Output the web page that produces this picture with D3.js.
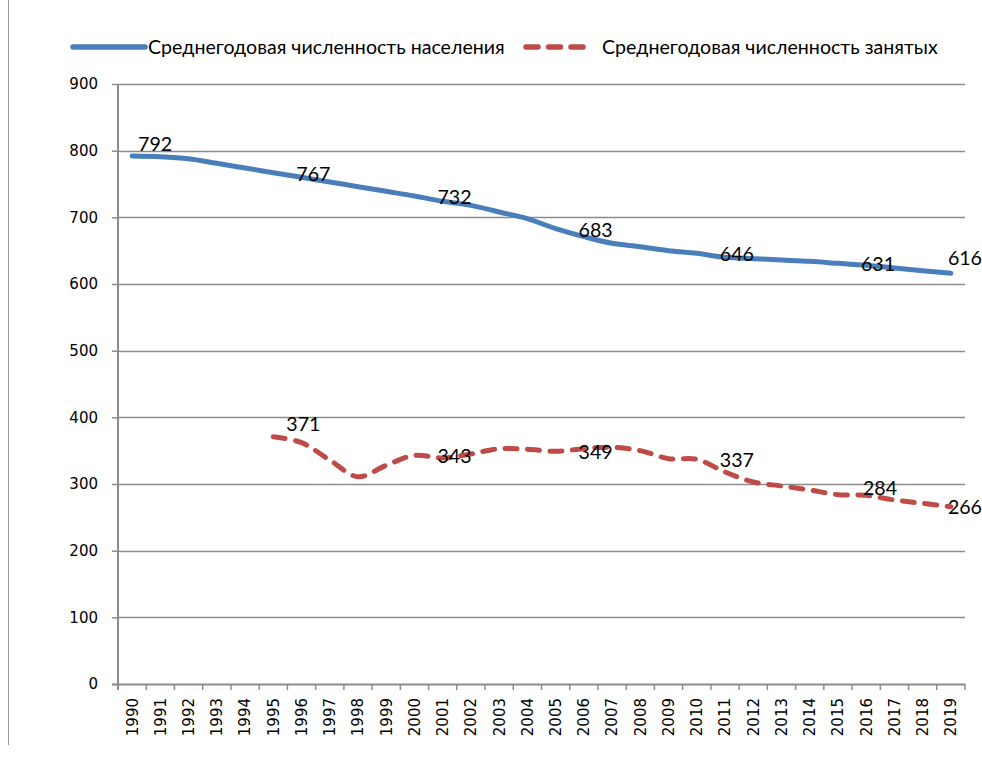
<!DOCTYPE html>
<html>
<head>
<meta charset="utf-8">
<script src="https://cdn.jsdelivr.net/npm/d3@7"></script>
<style>
  html, body { margin: 0; padding: 0; background: #fff; }
  svg { display: block; }
</style>
</head>
<body>
<svg id="chart" width="982" height="764"></svg>
<script>
// Years on the horizontal axis
const years = d3.range(1990, 2020);

// Average annual population, thousand people
const population = [792, 791, 788, 781, 774, 767, 760, 753, 746, 739,
                    732, 724, 718, 708, 698, 683, 671, 661, 656, 650,
                    646, 640, 638, 636, 634, 631, 628, 624, 620, 616];

// Average annual number of employed, thousand people (no data before 1995)
const employed = [null, null, null, null, null, 371, 362, 336, 311, 328,
                  343, 339, 345, 353, 352, 349, 353, 355, 350, 338,
                  337, 318, 303, 297, 291, 284, 283, 276, 271, 266];

// Years that carry a value label
const popLabelYears = [1990, 1995, 2000, 2005, 2010, 2015, 2019];
const empLabelYears = [1995, 2000, 2005, 2010, 2015, 2019];

const yTicks = [0, 100, 200, 300, 400, 500, 600, 700, 800, 900];

const seriesNames = ["Среднегодовая численность населения",
                     "Среднегодовая численность занятых"];

// ---- layout and style ----
const plot = { left: 118, right: 965, top: 84, bottom: 684 };
const gridColor = "#8c8c8c";
const blue = "#4a7ebb";
const red = "#be4b48";
const tickFont = "DejaVu Sans, Verdana, sans-serif";
const tickSize = "15px";
const labelFont = "Lato, Liberation Sans, sans-serif";
const labelSize = "19.6px";

const svg = d3.select("#chart");

// chart border (left edge)
svg.append("line")
  .attr("x1", 8.5).attr("x2", 8.5).attr("y1", 0).attr("y2", 745)
  .attr("stroke", "#9a9a9a").attr("stroke-width", 1);

const x = d3.scaleBand().domain(years).range([plot.left, plot.right]).padding(0);
const cx = yr => x(yr) + x.bandwidth() / 2;
const y = d3.scaleLinear().domain([0, 900]).range([plot.bottom, plot.top]);

// horizontal gridlines
svg.append("g")
  .selectAll("line")
  .data(yTicks.filter(v => v > 0))
  .join("line")
  .attr("x1", plot.left).attr("x2", plot.right)
  .attr("y1", d => Math.round(y(d)) + 0.5).attr("y2", d => Math.round(y(d)) + 0.5)
  .attr("stroke", gridColor).attr("stroke-width", 1.5);

// y axis
const yAxis = svg.append("g")
  .attr("transform", `translate(${plot.left},0)`)
  .call(d3.axisLeft(y).tickValues(yTicks).tickSize(6).tickPadding(14).tickSizeOuter(0));
yAxis.select(".domain").attr("stroke", gridColor).attr("stroke-width", 2)
  .attr("d", `M0,${plot.top}V${plot.bottom + 6}`);
yAxis.selectAll(".tick line").attr("stroke", gridColor).attr("stroke-width", 1.5);
yAxis.selectAll(".tick text")
  .style("font-family", tickFont).style("font-size", tickSize).style("fill", "#000");

// x axis: line, boundary ticks, rotated year labels
const xg = svg.append("g");
xg.append("line")
  .attr("x1", plot.left - 6).attr("x2", plot.right)
  .attr("y1", plot.bottom + 0.5).attr("y2", plot.bottom + 0.5)
  .attr("stroke", gridColor).attr("stroke-width", 2);
const bounds = years.map(yr => x(yr)).concat([x(years[years.length - 1]) + x.bandwidth()]);
xg.selectAll("line.tk")
  .data(bounds)
  .join("line")
  .attr("class", "tk")
  .attr("x1", d => d).attr("x2", d => d)
  .attr("y1", plot.bottom).attr("y2", plot.bottom + 6)
  .attr("stroke", gridColor).attr("stroke-width", 1.5);
xg.selectAll("text")
  .data(years)
  .join("text")
  .attr("transform", d => `translate(${cx(d)},${plot.bottom + 14}) rotate(-90)`)
  .attr("text-anchor", "end")
  .attr("dy", "0.36em")
  .style("font-family", tickFont).style("font-size", tickSize).style("fill", "#000")
  .text(d => d);

// smoothed lines
const popData = years.map((yr, i) => ({ yr, v: population[i] }));
const empData = years.map((yr, i) => ({ yr, v: employed[i] }));
const line = d3.line()
  .defined(d => d.v != null)
  .x(d => cx(d.yr)).y(d => y(d.v))
  .curve(d3.curveCatmullRom.alpha(0.5));

svg.append("path")
  .attr("d", line(popData))
  .attr("fill", "none").attr("stroke", blue)
  .attr("stroke-width", 5).attr("stroke-linecap", "round").attr("stroke-linejoin", "round");

svg.append("path")
  .attr("d", line(empData.filter(d => d.v != null)))
  .attr("fill", "none").attr("stroke", red)
  .attr("stroke-width", 5).attr("stroke-linecap", "round").attr("stroke-linejoin", "round")
  .attr("stroke-dasharray", "12,10.5");

// value labels: left edge offset and vertical centre offset from the point
const popOffsets = { 1990: [6, -12], 2019: [-3, -15] };
const empOffsets = { 1995: [13, -13], 2015: [25, -7], 2019: [-3, 0] };
function drawLabels(data, labelYears, offsets) {
  svg.append("g")
    .selectAll("text")
    .data(data.filter(d => labelYears.includes(d.yr)))
    .join("text")
    .attr("x", d => cx(d.yr) + (offsets[d.yr] ? offsets[d.yr][0] : 23))
    .attr("y", d => y(d.v) + (offsets[d.yr] ? offsets[d.yr][1] : 1))
    .attr("dy", "0.36em")
    .style("font-family", labelFont).style("font-size", labelSize).style("fill", "#000")
    .text(d => d.v);
}
drawLabels(popData, popLabelYears, popOffsets);
drawLabels(empData, empLabelYears, empOffsets);

// legend
const lg = svg.append("g");
lg.append("line")
  .attr("x1", 73).attr("x2", 145).attr("y1", 47).attr("y2", 47)
  .attr("stroke", blue).attr("stroke-width", 5.5).attr("stroke-linecap", "round");
lg.append("text")
  .attr("x", 148).attr("y", 47).attr("dy", "0.36em")
  .style("font-family", labelFont).style("font-size", labelSize).style("fill", "#000")
  .text(seriesNames[0]);
lg.append("line")
  .attr("x1", 526).attr("x2", 584).attr("y1", 47).attr("y2", 47)
  .attr("stroke", red).attr("stroke-width", 5.5).attr("stroke-linecap", "round")
  .attr("stroke-dasharray", "12,10.5");
lg.append("text")
  .attr("x", 602).attr("y", 47).attr("dy", "0.36em")
  .style("font-family", labelFont).style("font-size", labelSize).style("fill", "#000")
  .text(seriesNames[1]);
</script>
</body>
</html>
